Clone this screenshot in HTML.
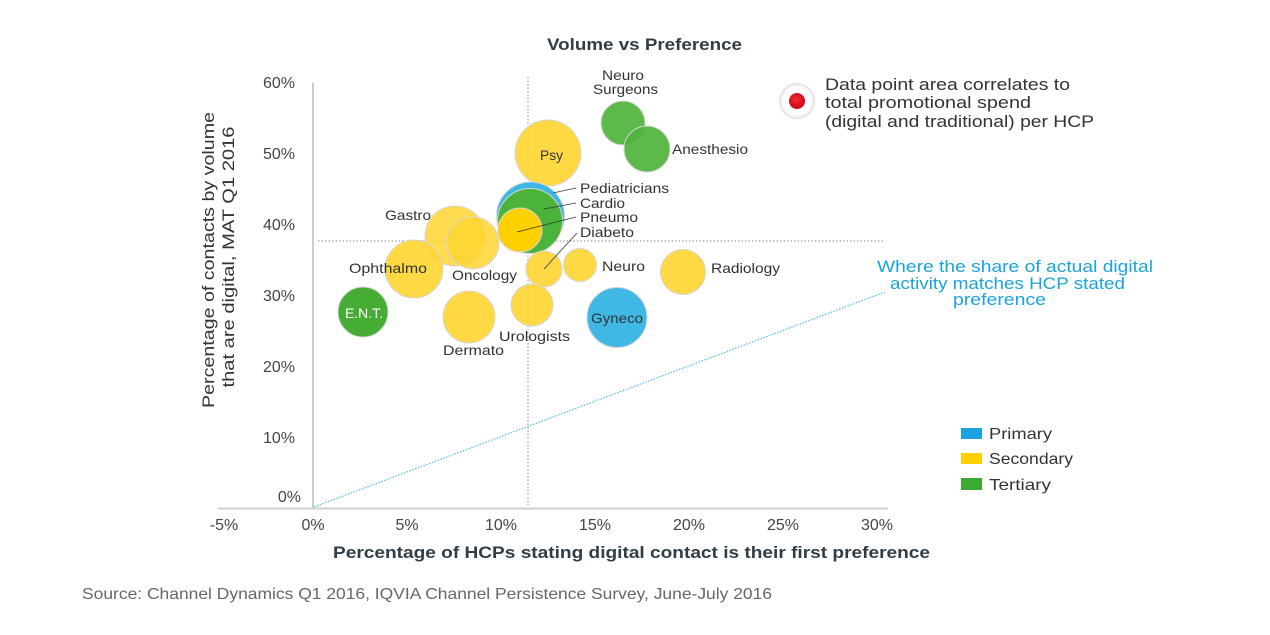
<!DOCTYPE html>
<html>
<head>
<meta charset="utf-8">
<style>
  html, body { margin: 0; padding: 0; background: #ffffff; }
  svg { display: block; }
  text { font-family: "Liberation Sans", "DejaVu Sans", sans-serif; }
</style>
</head>
<body>
<svg width="1270" height="635" viewBox="0 0 1270 635" xmlns="http://www.w3.org/2000/svg">
  <rect width="1270" height="635" fill="#ffffff"/>

  <!-- Title -->
  <text x="644.5" y="50" text-anchor="middle" font-size="17" font-weight="bold" fill="#2f3d47" textLength="195" lengthAdjust="spacingAndGlyphs">Volume vs Preference</text>

  <!-- Reference lines -->
  <line x1="528" y1="77" x2="528" y2="505" stroke="#8a8a8a" stroke-width="1" stroke-dasharray="1.5,2"/>
  <line x1="318" y1="241" x2="885" y2="241" stroke="#8a8a8a" stroke-width="1" stroke-dasharray="1.5,2"/>
  <line x1="314" y1="507" x2="885" y2="292" stroke="#4fbbe8" stroke-width="1.2" stroke-dasharray="1.5,1.5"/>

  <!-- Axes -->
  <line x1="313" y1="83" x2="313" y2="508" stroke="#9a9a9a" stroke-width="1"/>
  <line x1="218" y1="508.5" x2="888" y2="508.5" stroke="#cfcfcf" stroke-width="2"/>

  <!-- Y tick labels -->
  <g font-size="16" fill="#444" text-anchor="end">
    <text x="295" y="88">60%</text>
    <text x="295" y="159">50%</text>
    <text x="295" y="230">40%</text>
    <text x="295" y="301">30%</text>
    <text x="295" y="372">20%</text>
    <text x="295" y="443">10%</text>
    <text x="301" y="502">0%</text>
  </g>

  <!-- X tick labels -->
  <g font-size="16" fill="#444" text-anchor="middle">
    <text x="224" y="530">-5%</text>
    <text x="313" y="530">0%</text>
    <text x="407" y="530">5%</text>
    <text x="501" y="530">10%</text>
    <text x="595" y="530">15%</text>
    <text x="689" y="530">20%</text>
    <text x="783" y="530">25%</text>
    <text x="877" y="530">30%</text>
  </g>

  <!-- Y axis title -->
  <g font-size="17" fill="#333" text-anchor="middle">
    <text transform="translate(214,260) rotate(-90)" x="0" y="0" textLength="296" lengthAdjust="spacingAndGlyphs">Percentage of contacts by volume</text>
    <text transform="translate(234,257) rotate(-90)" x="0" y="0" textLength="261" lengthAdjust="spacingAndGlyphs">that are digital, MAT Q1 2016</text>
  </g>

  <!-- X axis title -->
  <text x="631.5" y="558" text-anchor="middle" font-size="17" font-weight="bold" fill="#2f3d47" textLength="597" lengthAdjust="spacingAndGlyphs">Percentage of HCPs stating digital contact is their first preference</text>

  <!-- Source -->
  <text x="82" y="599" font-size="16" fill="#666" textLength="690" lengthAdjust="spacingAndGlyphs">Source: Channel Dynamics Q1 2016, IQVIA Channel Persistence Survey, June-July 2016</text>

  <!-- Bubbles -->
  <g stroke="#d6d6d6" stroke-width="1">
    <!-- Tertiary (green) top right -->
    <circle cx="623" cy="123" r="22" fill="#4fb43b" fill-opacity="0.92"/>
    <circle cx="647" cy="149" r="23" fill="#4fb43b" fill-opacity="0.92"/>
    <!-- Psy -->
    <circle cx="548" cy="153" r="33" fill="#fed530" fill-opacity="0.9"/>
    <!-- Gastro, Oncology, Ophthalmo -->
    <circle cx="455" cy="236" r="30" fill="#fed530" fill-opacity="0.85"/>
    <circle cx="473" cy="243" r="26" fill="#fed530" fill-opacity="0.85"/>
    <circle cx="414" cy="269" r="29" fill="#fed530" fill-opacity="0.9"/>
    <!-- Pediatricians, Cardio, Pneumo -->
    <circle cx="530.5" cy="216" r="34" fill="#3cb7e6"/>
    <circle cx="530" cy="221" r="32.5" fill="#4bb23a"/>
    <circle cx="520" cy="230" r="22" fill="#fdd000"/>
    <!-- Diabeto, Neuro, Radiology -->
    <circle cx="544" cy="269" r="18" fill="#fed530" fill-opacity="0.9"/>
    <circle cx="580" cy="265" r="16.5" fill="#fed530" fill-opacity="0.9"/>
    <circle cx="683" cy="272" r="22.5" fill="#fed530" fill-opacity="0.9"/>
    <!-- ENT, Dermato, Urologists, Gyneco -->
    <circle cx="363" cy="312" r="25" fill="#45ad33"/>
    <circle cx="469" cy="317" r="26" fill="#fed530" fill-opacity="0.9"/>
    <circle cx="532" cy="305" r="21" fill="#fed530" fill-opacity="0.9"/>
    <circle cx="617" cy="317.5" r="30" fill="#3fb8e6"/>
  </g>

  <!-- Leader lines -->
  <g stroke="#3a3a3a" stroke-width="0.8">
    <line x1="553" y1="193" x2="576" y2="188"/>
    <line x1="544" y1="209" x2="576" y2="203"/>
    <line x1="517" y1="232" x2="576" y2="217"/>
    <line x1="544" y1="269" x2="577" y2="233"/>
  </g>

  <!-- Bubble labels -->
  <g font-size="14" fill="#333">
    <text x="623" y="80" text-anchor="middle" textLength="42" lengthAdjust="spacingAndGlyphs">Neuro</text>
    <text x="625.5" y="94" text-anchor="middle" textLength="65" lengthAdjust="spacingAndGlyphs">Surgeons</text>
    <text x="672" y="154" textLength="76" lengthAdjust="spacingAndGlyphs">Anesthesio</text>
    <text x="551.5" y="160" text-anchor="middle" textLength="23" lengthAdjust="spacingAndGlyphs">Psy</text>
    <text x="580" y="193" textLength="89" lengthAdjust="spacingAndGlyphs">Pediatricians</text>
    <text x="580" y="208" textLength="45" lengthAdjust="spacingAndGlyphs">Cardio</text>
    <text x="580" y="222" textLength="58" lengthAdjust="spacingAndGlyphs">Pneumo</text>
    <text x="580" y="237" textLength="54" lengthAdjust="spacingAndGlyphs">Diabeto</text>
    <text x="385" y="220" textLength="46" lengthAdjust="spacingAndGlyphs">Gastro</text>
    <text x="349" y="273" textLength="78" lengthAdjust="spacingAndGlyphs">Ophthalmo</text>
    <text x="452" y="280" textLength="65" lengthAdjust="spacingAndGlyphs">Oncology</text>
    <text x="602" y="271" textLength="43" lengthAdjust="spacingAndGlyphs">Neuro</text>
    <text x="711" y="273" textLength="69" lengthAdjust="spacingAndGlyphs">Radiology</text>
    <text x="345" y="318" fill="#ffffff" textLength="38" lengthAdjust="spacingAndGlyphs">E.N.T.</text>
    <text x="591" y="323" textLength="52" lengthAdjust="spacingAndGlyphs">Gyneco</text>
    <text x="499" y="341" textLength="71" lengthAdjust="spacingAndGlyphs">Urologists</text>
    <text x="443" y="355" textLength="61" lengthAdjust="spacingAndGlyphs">Dermato</text>
  </g>

  <!-- Size legend -->
  <defs>
    <radialGradient id="ring" cx="50%" cy="50%" r="50%">
      <stop offset="0.75" stop-color="#ffffff"/>
      <stop offset="0.92" stop-color="#eeeaf0"/>
      <stop offset="1" stop-color="#dcd6e0"/>
    </radialGradient>
    <radialGradient id="red" cx="45%" cy="40%" r="60%">
      <stop offset="0" stop-color="#f0303a"/>
      <stop offset="1" stop-color="#d00010"/>
    </radialGradient>
  </defs>
  <circle cx="797" cy="101" r="18" fill="url(#ring)"/>
  <circle cx="797" cy="101" r="8" fill="url(#red)"/>
  <g font-size="17" fill="#333">
    <text x="825" y="90" textLength="245" lengthAdjust="spacingAndGlyphs">Data point area correlates to</text>
    <text x="825" y="108" textLength="206" lengthAdjust="spacingAndGlyphs">total promotional spend</text>
    <text x="825" y="127" textLength="269" lengthAdjust="spacingAndGlyphs">(digital and traditional) per HCP</text>
  </g>

  <!-- Diagonal annotation -->
  <g font-size="17" fill="#1ba3dd" text-anchor="middle">
    <text x="1015" y="272" textLength="276" lengthAdjust="spacingAndGlyphs">Where the share of actual digital</text>
    <text x="1007.5" y="289" textLength="235" lengthAdjust="spacingAndGlyphs">activity matches HCP stated</text>
    <text x="999.5" y="305" textLength="93" lengthAdjust="spacingAndGlyphs">preference</text>
  </g>

  <!-- Category legend -->
  <rect x="961" y="428" width="21" height="11" fill="#1aa3e0"/>
  <rect x="961" y="453" width="21" height="11" fill="#ffd000"/>
  <rect x="961" y="478" width="21" height="12" fill="#3aaa35"/>
  <g font-size="16" fill="#333">
    <text x="989" y="439" textLength="63" lengthAdjust="spacingAndGlyphs">Primary</text>
    <text x="989" y="464" textLength="84" lengthAdjust="spacingAndGlyphs">Secondary</text>
    <text x="989" y="490" textLength="62" lengthAdjust="spacingAndGlyphs">Tertiary</text>
  </g>
</svg>
</body>
</html>
